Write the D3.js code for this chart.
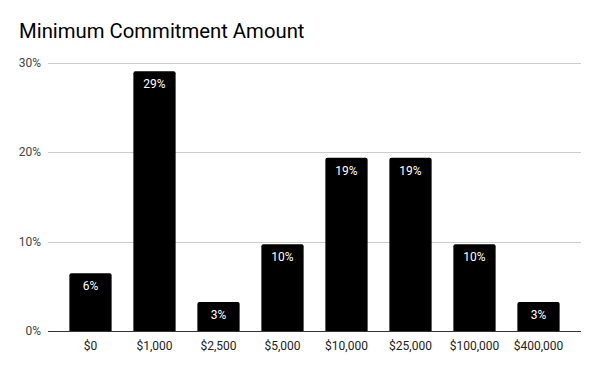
<!DOCTYPE html>
<html>
<head>
<meta charset="utf-8">
<script src="https://cdn.jsdelivr.net/npm/d3@7"></script>
<style>
  body { margin: 0; background: #fff; }
  text { font-family: Roboto, "Noto Sans", sans-serif; }
</style>
</head>
<body>
<svg id="chart" width="600" height="371"></svg>
<script>
// data
const categories = ["$0", "$1,000", "$2,500", "$5,000", "$10,000", "$25,000", "$100,000", "$400,000"];
const shares = [6.45, 29.03, 3.23, 9.68, 19.35, 19.35, 9.68, 3.23];
const yTicks = [0, 10, 20, 30];

const svg = d3.select("#chart");

svg.append("text")
    .attr("x", 19)
    .attr("y", 38)
    .attr("font-size", 20.3)
    .attr("fill", "#000")
    .text("Minimum Commitment Amount");

const x = d3.scaleBand()
    .domain(categories)
    .range([58.5, 570.5])
    .paddingInner(0.34)
    .paddingOuter(0.17);

const y = d3.scaleLinear()
    .domain([0, 30])
    .range([331, 62.5]);

// gridlines
svg.append("g")
    .selectAll("line")
    .data(yTicks.filter(d => d > 0))
    .join("line")
    .attr("x1", 48)
    .attr("x2", 581)
    .attr("y1", d => Math.round(y(d)) + 0.5)
    .attr("y2", d => Math.round(y(d)) + 0.5)
    .attr("stroke", "#ccc")
    .attr("stroke-width", 1);

// y labels
svg.append("g")
    .selectAll("text")
    .data(yTicks)
    .join("text")
    .attr("x", 41)
    .attr("y", d => y(d) + 4)
    .attr("text-anchor", "end")
    .attr("font-size", 12)
    .attr("fill", "#444")
    .text(d => d + "%");

// bars
svg.append("g")
    .selectAll("path")
    .data(categories)
    .join("path")
    .attr("fill", "#000")
    .attr("d", (c, i) => {
        const x0 = x(c), w = x.bandwidth();
        const top = y(shares[i]), bot = y(0), r = 2;
        return `M${x0},${bot}V${top + r}Q${x0},${top} ${x0 + r},${top}H${x0 + w - r}Q${x0 + w},${top} ${x0 + w},${top + r}V${bot}Z`;
    });

// value labels
svg.append("g")
    .selectAll("text")
    .data(categories)
    .join("text")
    .attr("x", c => x(c) + x.bandwidth() / 2)
    .attr("y", (c, i) => y(shares[i]) + 17)
    .attr("text-anchor", "middle")
    .attr("font-size", 12)
    .attr("fill", "#fff")
    .text((c, i) => Math.round(shares[i]) + "%");

// baseline
svg.append("line")
    .attr("x1", 48)
    .attr("x2", 581)
    .attr("y1", 331.5)
    .attr("y2", 331.5)
    .attr("stroke", "#333")
    .attr("stroke-width", 1);

// x labels
svg.append("g")
    .selectAll("text")
    .data(categories)
    .join("text")
    .attr("x", c => x(c) + x.bandwidth() / 2)
    .attr("y", 350)
    .attr("text-anchor", "middle")
    .attr("font-size", 12)
    .attr("fill", "#222")
    .text(c => c);
</script>
</body>
</html>
